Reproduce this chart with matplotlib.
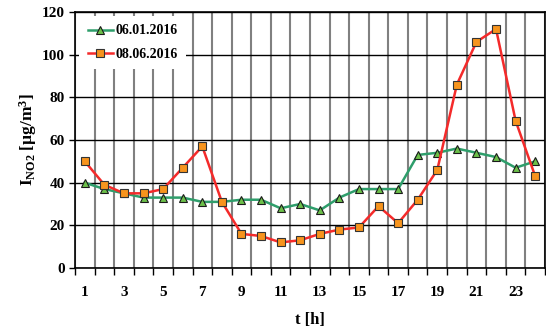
import numpy as np
import matplotlib.pyplot as plt
from matplotlib.ticker import FixedLocator

plt.rcParams['font.family'] = ['Liberation Serif', 'DejaVu Serif']
plt.rcParams['font.weight'] = 'bold'
plt.rcParams['mathtext.fontset'] = 'custom'
plt.rcParams['mathtext.rm'] = 'Liberation Serif:bold'
plt.rcParams['mathtext.bf'] = 'Liberation Serif:bold'
plt.rcParams['mathtext.it'] = 'Liberation Serif:bold'

# godziny i stezenia NO2
godziny = np.arange(1, 25)
zima = [40, 37, 35, 33, 33, 33, 31, 31, 32, 32, 28, 30,
        27, 33, 37, 37, 37, 53, 54, 56, 54, 52, 47, 50]
lato = [50, 39, 35, 35, 37, 47, 57, 31, 16, 15, 12, 13,
        16, 18, 19, 29, 21, 32, 46, 86, 106, 112, 69, 43]
etykiety = ["06.01.2016", "08.06.2016"]

fig = plt.figure(figsize=(5.46, 3.28), dpi=100)
ax = fig.add_axes([75/546, 1 - 268/328, 470/546, 256/328])

ax.plot(godziny, zima, '-^', color='#2E9E6B', lw=1.8, ms=6,
        mfc='#6CC04A', mec='#1a1a1a', mew=0.8, label=etykiety[0], zorder=3)
ax.plot(godziny, lato, '-s', color='#F42A2A', lw=1.8, ms=6,
        mfc='#F7941D', mec='#333333', mew=0.8, label=etykiety[1], zorder=4)

ax.set_xlim(0.5, 24.5)
ax.set_ylim(0, 120)
ax.set_yticks(np.arange(0, 121, 20))
ax.set_xticks(np.arange(1, 24, 2))
ax.xaxis.set_minor_locator(FixedLocator(np.arange(0.5, 25, 1)))
ax.tick_params(axis='x', which='major', length=0, pad=13, labelsize=11)
ax.tick_params(axis='x', which='minor', length=5, width=1, direction='out')
ax.tick_params(axis='y', length=4, width=1, direction='out', labelsize=11)

ax.grid(True, axis='x', which='minor', color='#808080', lw=1.5)
ax.grid(True, axis='y', which='major', color='black', lw=1.0)
ax.set_axisbelow(True)
for s in ax.spines.values():
    s.set_linewidth(1.2)

ax.set_xlabel("t [h]", fontsize=12, fontweight='bold', labelpad=9)
ax.set_ylabel(r"I$_{\rm NO2}$ [µg/m$^{\rm 3}$]", fontsize=12.5, fontweight='bold', labelpad=2)

leg = ax.legend(loc='upper left', frameon=True, fancybox=False, edgecolor='white',
                framealpha=1, fontsize=10, handlelength=1.8, borderaxespad=0.3,
                borderpad=0.6, labelspacing=0.75, handletextpad=0.2)
leg.get_frame().set_linewidth(0)

fig.savefig("out.png", dpi=100)
